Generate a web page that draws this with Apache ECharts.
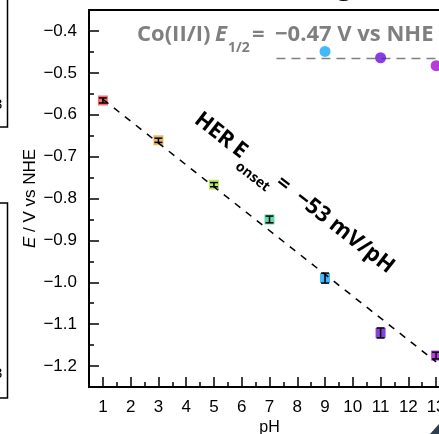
<!DOCTYPE html>
<html>
<head>
<meta charset="utf-8">
<script src="https://cdn.jsdelivr.net/npm/echarts@6/dist/echarts.min.js"></script>
<style>
  html, body { margin: 0; padding: 0; background: #fff; }
  #chart { width: 439px; height: 434px; }
</style>
</head>
<body>
<div id="chart"></div>
<script>
// HER onset potentials (squares) with error bars
const pH = [1, 3, 5, 7, 9, 11, 13];
const herOnset = [-0.566, -0.661, -0.767, -0.850, -0.990, -1.121, -1.175];
const herErr = [0.006, 0.005, 0.005, 0.008, 0.012, 0.012, 0.008];

// Co(II/I) half-wave potentials (circles)
const coPH = [9, 11, 13];
const coHalf = [-0.449, -0.464, -0.483];

// dashed guide lines
const fitPH = [1, 13];
const fitE = [-0.563, -1.19];
const coLinePH = [7.25, 13.5];
const coLineE = [-0.466, -0.466];

// ticks
const xTicks = [1, 2, 3, 4, 5, 6, 7, 8, 9, 10, 11, 12, 13];
const xMinor = [1.5, 2.5, 3.5, 4.5, 5.5, 6.5, 7.5, 8.5, 9.5, 10.5, 11.5, 12.5];
const yTicks = [-1.2, -1.1, -1.0, -0.9, -0.8, -0.7, -0.6, -0.5, -0.4];
const yMinor = [-1.15, -1.05, -0.95, -0.85, -0.75, -0.65, -0.55, -0.45];

const herColors = ['#f54848', '#e3a633', '#a9e43c', '#2fd49a', '#19a4f4', '#6b10d6', '#a30fd2'];
const coColors = ['#14a8fb', '#6b0ed8', '#a60bd5'];

const tickFont = 'Liberation Sans, Arial, sans-serif';
const boldFont = '"Open Sans", "DejaVu Sans", sans-serif';
const fmt = v => v.toFixed(1).replace('-', '\u2212');

const chart = echarts.init(document.getElementById('chart'));

const xBase = {
    type: 'value', min: 0.5, max: 13.5, position: 'bottom',
    splitLine: { show: false }
};
const yBase = {
    type: 'value', min: -1.25, max: -0.35, position: 'left',
    splitLine: { show: false }
};

let option = {
    animation: false,
    backgroundColor: '#fff',
    grid: {
        left: 89, top: 10, width: 361, height: 377,
        outerBoundsMode: 'none',
        show: true, borderColor: '#000', borderWidth: 2
    },
    xAxis: [
        Object.assign({}, xBase, {
            name: 'pH',
            nameLocation: 'middle',
            nameGap: 33,
            nameMoveOverlap: false,
            nameTextStyle: { fontFamily: tickFont, fontSize: 16, color: '#000' },
            axisLine: { lineStyle: { color: '#000', width: 2 } },
            axisTick: { inside: true, length: 10, customValues: xTicks, lineStyle: { color: '#000', width: 1.5 } },
            axisLabel: { customValues: xTicks, margin: 12, fontFamily: tickFont, fontSize: 17, color: '#000' }
        }),
        Object.assign({}, xBase, {
            axisLine: { show: false },
            axisTick: { inside: true, length: 5, customValues: xMinor, lineStyle: { color: '#000', width: 1.5 } },
            axisLabel: { show: false }
        })
    ],
    yAxis: [
        Object.assign({}, yBase, {
            name: '{i|E} / V vs NHE',
            nameLocation: 'middle',
            nameGap: 50,
            nameMoveOverlap: false,
            nameTextStyle: {
                fontFamily: tickFont, fontSize: 17, color: '#000',
                rich: { i: { fontFamily: tickFont, fontSize: 17, fontStyle: 'italic', color: '#000' } }
            },
            axisLine: { lineStyle: { color: '#000', width: 2 } },
            axisTick: { inside: true, length: 10, customValues: yTicks, lineStyle: { color: '#000', width: 1.5 } },
            axisLabel: { customValues: yTicks, margin: 12, formatter: fmt, fontFamily: tickFont, fontSize: 17, color: '#000' }
        }),
        Object.assign({}, yBase, {
            axisLine: { show: false },
            axisTick: { inside: true, length: 5, customValues: yMinor, lineStyle: { color: '#000', width: 1.5 } },
            axisLabel: { show: false }
        })
    ],
    series: [
        {
            type: 'line',
            data: coLinePH.map((x, i) => [x, coLineE[i]]),
            symbol: 'none',
            lineStyle: { color: '#808080', width: 1.5, type: [9, 6] },
            z: 2
        },
        {
            type: 'scatter',
            symbol: 'circle',
            symbolSize: 11,
            data: coPH.map((x, i) => ({ value: [x, coHalf[i]], itemStyle: { color: coColors[i] } })),
            z: 3
        },
        {
            type: 'scatter',
            symbol: 'rect',
            symbolSize: 10,
            data: pH.map((x, i) => ({ value: [x, herOnset[i]], itemStyle: { color: herColors[i] } })),
            z: 3
        },
        {
            type: 'custom',
            data: pH.map((x, i) => [x, herOnset[i], herErr[i]]),
            encode: { x: 0, y: 1 },
            renderItem: function (params, api) {
                let x = api.value(0), y = api.value(1), e = api.value(2);
                let hi = api.coord([x, y + e]);
                let lo = api.coord([x, y - e]);
                let w = 4;
                let s = { stroke: '#000', lineWidth: 1.5 };
                return {
                    type: 'group',
                    children: [
                        { type: 'line', shape: { x1: hi[0], y1: hi[1], x2: lo[0], y2: lo[1] }, style: s },
                        { type: 'line', shape: { x1: hi[0] - w, y1: hi[1], x2: hi[0] + w, y2: hi[1] }, style: s },
                        { type: 'line', shape: { x1: lo[0] - w, y1: lo[1], x2: lo[0] + w, y2: lo[1] }, style: s }
                    ]
                };
            },
            z: 4
        },
        {
            type: 'line',
            data: fitPH.map((x, i) => [x, fitE[i]]),
            symbol: 'none',
            lineStyle: { color: '#000', width: 1.5, type: [7, 7] },
            z: 5
        }
    ],
    graphic: [
        // edges of neighbouring panels
        { type: 'polyline', shape: { points: [[7.5, -2], [7.5, 127], [-2, 127]] }, style: { stroke: '#000', lineWidth: 1.5, fill: null } },
        { type: 'polyline', shape: { points: [[-2, 203], [7.5, 203], [7.5, 398], [-2, 398]] }, style: { stroke: '#000', lineWidth: 1.5, fill: null } },
        { type: 'text', x: -6, y: 105, style: { text: '3', font: '15px Liberation Sans', fill: '#000', verticalAlign: 'middle' } },
        { type: 'text', x: -6, y: 374, style: { text: '3', font: '15px Liberation Sans', fill: '#000', verticalAlign: 'middle' } },
        { type: 'text', x: 337, y: 1, style: { text: 'g', font: 'bold 26px "Open Sans"', fill: '#000', verticalAlign: 'bottom' } },
        { type: 'polygon', shape: { points: [[430, 434], [439, 424], [439, 434]] }, style: { fill: '#2c3e50' } },

        // Co(II/I) annotation
        { type: 'text', x: 137, y: 35, style: { text: 'Co(II/I)', font: 'bold 22px ' + boldFont, fill: '#7f7f7f', verticalAlign: 'middle' } },
        { type: 'text', x: 215, y: 35, style: { text: 'E', font: 'italic bold 22px ' + boldFont, fill: '#7f7f7f', verticalAlign: 'middle' } },
        { type: 'text', x: 228, y: 48, style: { text: '1/2', font: 'bold 14px ' + boldFont, fill: '#7f7f7f', verticalAlign: 'middle' } },
        { type: 'text', x: 252, y: 35, style: { text: '=', font: 'bold 22px ' + boldFont, fill: '#7f7f7f', verticalAlign: 'middle' } },
        { type: 'text', x: 275, y: 35, style: { text: '\u22120.47 V vs NHE', font: 'bold 22px ' + boldFont, fill: '#7f7f7f', verticalAlign: 'middle' } },

        // HER slope annotation
        {
            type: 'group',
            x: 197, y: 117,
            rotation: -38 * Math.PI / 180,
            children: [
                { type: 'text', x: 0, y: 0, style: { text: 'HER', font: 'bold 22px ' + boldFont, fill: '#000', verticalAlign: 'middle' } },
                { type: 'text', x: 48, y: 0, style: { text: 'E', font: 'bold 22px ' + boldFont, fill: '#000', verticalAlign: 'middle' } },
                { type: 'text', x: 61, y: 13, style: { text: 'onset', font: 'bold 14px ' + boldFont, fill: '#000', verticalAlign: 'middle' } },
                { type: 'text', x: 103, y: 0, style: { text: '=', font: 'bold 22px ' + boldFont, fill: '#000', verticalAlign: 'middle' } },
                { type: 'text', x: 247, y: 0, style: { text: '\u221253 mV/pH', font: 'bold 22px ' + boldFont, fill: '#000', align: 'right', verticalAlign: 'middle' } }
            ]
        }
    ]
};

chart.setOption(option);
</script>
</body>
</html>
